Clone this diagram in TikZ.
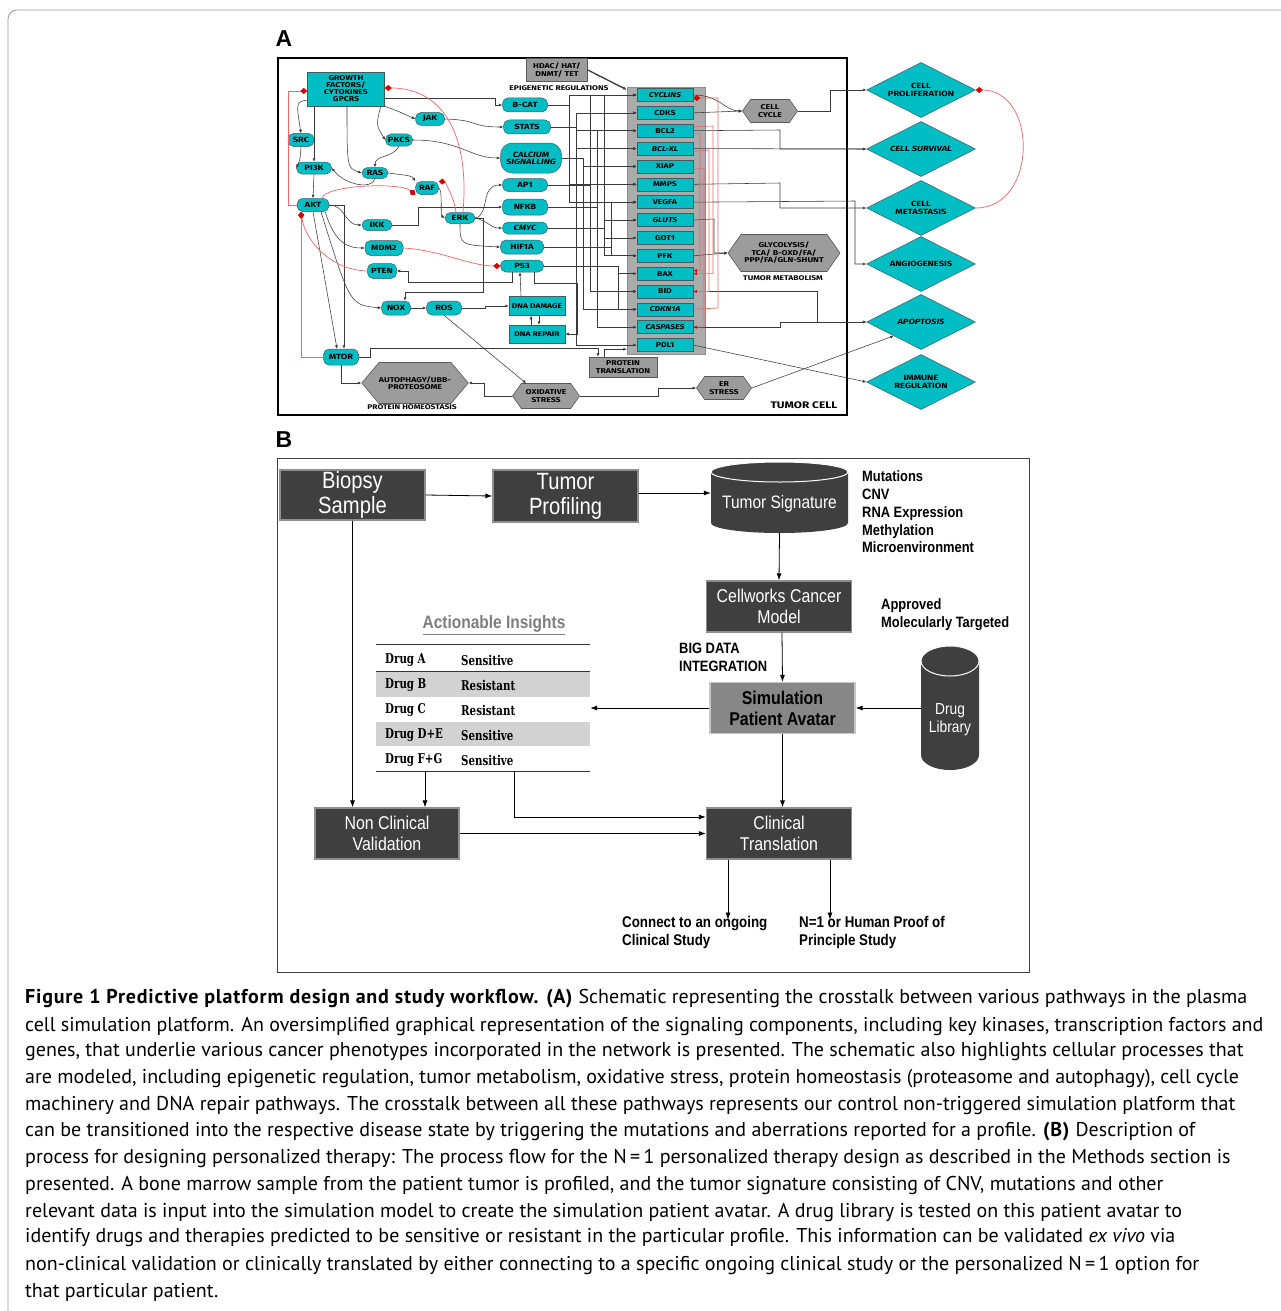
\documentclass[tikz,border=0pt]{standalone}
\usepackage{fontspec}
\usepackage{tikz}
\usetikzlibrary{arrows.meta,positioning,shapes.geometric,shapes.symbols}
\setmainfont{PT Sans}[BoldFeatures={LetterSpace=4}]
\newfontfamily\cellfont[FakeStretch=1.25]{Fira Sans}
\newfontfamily\narrowfont[FakeStretch=0.86]{Liberation Sans}
\newfontfamily\drugfont[FakeStretch=0.76]{DejaVu Serif}
\newfontfamily\labelfont{Liberation Sans}
\definecolor{tealc}{HTML}{00BEC4}
\definecolor{tealedge}{HTML}{3E5E60}
\definecolor{gnode}{HTML}{9C9C9C}
\definecolor{colgray}{HTML}{ABABAB}
\definecolor{redline}{HTML}{EE6666}
\definecolor{reddot}{HTML}{D60000}
\definecolor{wirec}{HTML}{3A3A3A}
\definecolor{boxdark}{HTML}{3F3F3F}
\definecolor{boxedge}{HTML}{8E8E8E}
\definecolor{simgray}{HTML}{878787}
\definecolor{simedge}{HTML}{C6C6C6}
\definecolor{rowgray}{HTML}{D2D2D2}
\definecolor{framec}{HTML}{9A9A9A}
\definecolor{insight}{HTML}{7E7E7E}

\tikzset{
  tnode/.style={rounded corners=5.5pt, fill=tealc, draw=tealedge, line width=0.5pt, inner sep=0.5pt, align=center,
    font=\cellfont\bfseries\fontsize{7.5}{7}\selectfont},
  tbox/.style={rectangle, fill=tealc, draw=tealedge, line width=0.5pt, inner sep=0.5pt, align=center,
    font=\cellfont\bfseries\fontsize{7.5}{7}\selectfont},
  colbox/.style={tbox, minimum width=56pt, minimum height=13pt, font=\cellfont\bfseries\fontsize{7}{7}\selectfont},
  gbox/.style={rectangle, fill=gnode, draw=black!65, line width=0.6pt, inner sep=0.5pt, align=center,
    font=\cellfont\bfseries\fontsize{7}{7.5}\selectfont},
  hexa/.style={signal, signal to=west and east, fill=gnode, draw=black!65, line width=0.6pt, inner sep=0pt,
    align=center, font=\cellfont\bfseries\fontsize{7}{7.5}\selectfont},
  phen/.style={diamond, aspect=2, fill=tealc, draw=tealedge, line width=0.5pt, minimum width=109pt,
    minimum height=55pt, inner sep=0pt, align=center, font=\cellfont\bfseries\fontsize{7.5}{7.5}\selectfont},
  note/.style={inner sep=0pt, align=center, font=\cellfont\bfseries\fontsize{6.8}{7}\selectfont},
  wire/.style={draw=wirec, line width=0.55pt, -{Latex[length=3.5pt,width=3pt]}},
  inh/.style={draw=redline, line width=0.7pt, -{Diamond[length=7pt,width=6pt,color=reddot,fill=reddot]}},
  redw/.style={draw=redline, line width=0.6pt, -{Latex[length=3.5pt,width=3pt,color=reddot]}},
  darkbox/.style={rectangle, fill=boxdark, draw=boxedge, line width=1.3pt, text=white, align=center,
    minimum width=145pt, minimum height=51pt, inner sep=1pt, font=\narrowfont\fontsize{18.5}{21}\selectfont},
  drum/.style={fill=boxdark},
  rim/.style={draw=white, line width=1pt},
  flow/.style={draw=black, line width=0.8pt, -{Latex[length=7pt,width=5pt]}},
  btxt/.style={inner sep=0pt, align=left, font=\narrowfont\bfseries\fontsize{15}{17.8}\selectfont},
  drugtxt/.style={anchor=west, inner sep=0pt, font=\drugfont\bfseries\fontsize{13.5}{14}\selectfont},
  captxt/.style={anchor=west, inner sep=0pt, font=\fontsize{20}{22}\selectfont}
}

\begin{document}
\begin{tikzpicture}[x=1pt,y=-1pt]
\useasboundingbox[fill=white] (0,0) rectangle (1281,1311);
\draw[framec, line width=0.8pt, rounded corners=9pt] (8,1330) -- (8,10) -- (1300,10);

\node[font=\labelfont\bfseries\fontsize{23}{23}\selectfont] (labA) at (284,39) {A};
\node[font=\labelfont\bfseries\fontsize{23}{23}\selectfont] (labB) at (284,440) {B};

% ---------------- panel A
\draw[line width=2pt] (278,58) rectangle (847,415);

\node[tbox, minimum width=77pt, minimum height=34pt, font=\cellfont\bfseries\fontsize{7}{7}\selectfont] (gf) at (346,89) {GROWTH\\FACTORS/\\CYTOKINES\\GPCRS};
\node[gbox, minimum width=61pt, minimum height=23pt] (hdac) at (557,70) {HDAC/ HAT/\\DNMT/ TET};
\node[note] (epi) at (559,88) {EPIGENETIC REGULATIONS};

\node[tnode, minimum width=45pt, minimum height=14pt] (bcat) at (525,105) {B-CAT};
\node[tnode, minimum width=47pt, minimum height=14pt] (stats) at (527,127) {STATS};
\node[tnode, minimum width=29pt, minimum height=13pt] (jak) at (430,119) {JAK};
\node[tnode, minimum width=26pt, minimum height=13pt] (src) at (301,140) {SRC};
\node[tnode, minimum width=27pt, minimum height=12pt] (pkcs) at (399,140) {PKCS};
\node[tnode, rounded corners=12pt, minimum width=61pt, minimum height=30pt] (calc) at (531,158) {\itshape CALCIUM\\\itshape SIGNALLING};
\node[tnode, minimum width=35pt, minimum height=12pt] (pi3k) at (314,168) {PI3K};
\node[tnode, minimum width=26pt, minimum height=11pt] (ras) at (375,173) {RAS};
\node[tnode, minimum width=23pt, minimum height=13pt] (raf) at (427,188) {RAF};
\node[tnode, minimum width=45pt, minimum height=13pt] (api) at (525,185) {AP1};
\node[tnode, minimum width=32pt, minimum height=13pt] (akt) at (313,205) {AKT};
\node[tnode, minimum width=45pt, minimum height=16pt] (nfkb) at (525,207) {NFKB};
\node[tnode, minimum width=30pt, minimum height=11pt] (erk) at (460,218) {ERK};
\node[tnode, minimum width=30pt, minimum height=11pt] (ikk) at (377,225) {IKK};
\node[tnode, minimum width=45pt, minimum height=12pt] (cmyc) at (525,228) {\itshape CMYC};
\node[tnode, minimum width=38pt, minimum height=15pt] (mdm2) at (384,248) {MDM2};
\node[tnode, minimum width=43pt, minimum height=14pt] (hifia) at (522,247) {HIF1A};
\node[tnode, minimum width=29pt, minimum height=15pt] (pten) at (382,271) {PTEN};
\node[tnode, minimum width=43pt, minimum height=12pt] (p53) at (522,266) {P53};
\node[tnode, minimum width=29pt, minimum height=14pt] (nox) at (396,308) {NOX};
\node[tnode, minimum width=35pt, minimum height=14pt] (ros) at (444,308) {ROS};
\node[tbox, minimum width=56pt, minimum height=19pt, font=\cellfont\bfseries\fontsize{6.8}{7}\selectfont] (dnad) at (537,306) {DNA DAMAGE};
\node[tbox, minimum width=56pt, minimum height=18pt, font=\cellfont\bfseries\fontsize{6.8}{7}\selectfont] (dnar) at (537,334) {DNA REPAIR};
\node[tnode, minimum width=35pt, minimum height=16pt] (mtor) at (341,357) {MTOR};
\node[hexa, signal pointer angle=100, minimum width=88pt, minimum height=41pt] (auto) at (415,383) {AUTOPHAGY/UBB-\\PROTEOSOME};
\node[note] (homeo) at (412,407) {PROTEIN HOMEOSTASIS};
\node[hexa, signal pointer angle=110, minimum width=67pt, minimum height=25pt] (oxs) at (546,396) {OXIDATIVE\\STRESS};
\node[gbox, minimum width=68pt, minimum height=20pt] (ptrans) at (623,367) {PROTEIN\\TRANSLATION};

% gene column
\node[rectangle, fill=colgray, draw=black!45, line width=0.5pt, minimum width=78pt, minimum height=267pt, inner sep=0pt] (col) at (666,220.5) {};
\foreach \nm/\lb [count=\i from 0] in {cyc/{\itshape CYCLINS}, cdks/CDKS, bcl2/BCL2, bclxl/{\itshape BCL-XL},
    xiap/XIAP, mmps/MMPS, vegfa/VEGFA, gluts/{\itshape GLUTS}, got1/GOT1, pfk/PFK, bax/BAX, bid/BID,
    cdkn/{\itshape CDKN1A}, casp/{\itshape CASPASES}, pdl1/PDL1}
  \node[colbox] (\nm) at (665,95+17.86*\i) {\lb};

\node[hexa, signal pointer angle=110, minimum width=55pt, minimum height=23pt] (ccyc) at (770,111) {CELL\\CYCLE};
\node[hexa, signal pointer angle=110, minimum width=112pt, minimum height=37pt] (glyc) at (784,253) {GLYCOLYSIS/\\TCA/ B-OXD/FA/\\PPP/FA/GLN-SHUNT};
\node[note] (tumet) at (783,278) {TUMOR METABOLISM};
\node[hexa, signal pointer angle=110, minimum width=55pt, minimum height=23pt] (ers) at (724,388) {ER\\STRESS};
\node[note, font=\cellfont\bfseries\fontsize{9.5}{9}\selectfont] (tcell) at (804,405) {TUMOR CELL};

\foreach \nm/\lb/\yy in {prol/{CELL\\PROLIFERATION}/90, surv/{\itshape CELL SURVIVAL}/149,
    meta/{CELL\\METASTASIS}/208, ang/ANGIOGENESIS/264, apop/{\itshape APOPTOSIS}/322,
    imm/{IMMUNE\\REGULATION}/382}
  \node[phen] (\nm) at (921,\yy) {\lb};

% signalling wires
\draw[wire] ([yshift=-9pt]gf.east) -- (495,98) |- (bcat.west);
\draw[wire] (gf.south east) .. controls (400,112) .. (jak.west);
\draw[wire] (jak.east) .. controls (480,120) and (470,127) .. (stats.west);
\draw[wire] ([yshift=-11pt]gf.west) .. controls (296,102) .. (src.north);
\draw[wire] (pi3k.north |- gf.south) -- (pi3k.north);
\draw[wire] ([xshift=1pt]gf.south) .. controls (347,168) .. (ras.west);
\draw[wire] ([xshift=-4pt]gf.south east) .. controls (376,125) .. (pkcs.west);
\draw[wire] (src.south) .. controls (300,160) .. (pi3k.west);
\draw[wire] (pkcs.south) .. controls (393,158) and (375,155) .. (ras.north);
\draw[wire] (pkcs.east) .. controls (460,140) and (470,158) .. (calc.west);
\draw[wire] (ras.south) .. controls (372,190) and (345,185) .. (pi3k.east);
\draw[wire] (ras.east) .. controls (412,176) .. (raf.north west);
\draw[wire] (raf.east) .. controls (443,190) and (440,215) .. (erk.west);
\draw[wire] (pi3k.south) -- (akt.north);
\draw[wire] (erk.east) .. controls (490,215) and (480,185) .. (api.west);
\draw[wire] (erk.east) .. controls (490,222) and (490,228) .. (cmyc.west);
\draw[wire] (erk.south) .. controls (460,245) .. (hifia.west);
\draw[wire] (ikk.east) -- (418,225) |- (nfkb.west);
\draw[wire] (akt.east) .. controls (345,205) and (345,225) .. (ikk.west);
\draw[wire] ([xshift=-4pt]akt.south east) .. controls (335,245) and (350,248) .. (mdm2.west);
\draw[wire] ([xshift=8pt]akt.south) .. controls (350,305) .. (nox.west);
\draw[wire] (akt.south) -- ([xshift=-4pt]mtor.north);
\draw[wire] (akt.east) -| ([xshift=3pt]mtor.north);
\draw[wire] ([xshift=-10pt]p53.south) |- (408,282) |- (pten.east);
\draw[wire] ([xshift=-16pt]dnad.north) -- ([xshift=-2pt]p53.south);
\draw[wire] ([xshift=-6pt]dnar.north) -- ([xshift=-6pt]dnad.south);
\draw[wire] ([xshift=2pt]dnad.south) -- ([xshift=2pt]dnar.north);
\draw[wire] ([xshift=12pt]p53.south) |- (577,283) |- (dnar.east);
\draw[wire] (nox.east) -- (ros.west);
\draw[wire] (ros.east) -- (485,308) |- (dnad.west);
\draw[wire] (erk.east) -| (483,292) -| ([xshift=9pt]nox.north);
\draw[wire] (ros.south) -- ([xshift=-20pt]oxs.north);
\draw[wire] (oxs.west) -- (484,396) |- (auto.east);
\draw[wire] (mtor.south) |- (auto.west);
\draw[wire] (mtor.east) -| (370,348) -| ([xshift=-25pt]ptrans.north);
\draw[wire] ([xshift=-19pt]ptrans.north) |- ([yshift=5pt]col.south west);
\draw[wire] (oxs.east) -- (658,396) |- (ers.west);
\draw[wire] (ers.east) -- (apop.south west);
\draw[wire] (pdl1.east) -- (imm.west);
\draw[wire, line width=1.3pt] (hdac.east) -- ([yshift=-3pt]col.north west);

% transcription factors into the gene column
\foreach \src/\bx/\tgt in {bcat/67/cyc, bcat/67/mmps, bcat/67/vegfa, stats/60/cdks, stats/60/bcl2,
    stats/60/bclxl, stats/60/pdl1, calc/53/xiap, calc/53/cdkn, api/46/cyc, api/46/mmps, api/46/vegfa,
    api/46/bid, nfkb/39/bcl2, nfkb/39/bclxl, nfkb/39/xiap, nfkb/39/casp, cmyc/32/cyc, cmyc/32/cdks,
    cmyc/32/gluts, cmyc/32/got1, cmyc/32/pfk, hifia/25/vegfa, hifia/25/gluts, hifia/25/pfk,
    p53/18/bax, p53/18/bid, p53/18/cdkn}
  \draw[wire] (\src.east) -| ([xshift=-\bx pt]\tgt.west) -- (\tgt.west);

% gene column to phenotypes
\draw[wire] (cyc.east) .. controls (720,95) and (725,111) .. (ccyc.west);
\draw[wire] (cdks.east) -- (ccyc.west);
\draw[wire] (ccyc.east) -- (830,111) |- (prol.west);
\draw[wire] (bcl2.east) -- (780,130) |- (surv.west);
\draw[wire] (bclxl.east) -- (surv.west);
\draw[wire] (mmps.east) -- (780,183) |- (meta.west);
\draw[wire] (vegfa.east) -- (855,201) |- (ang.west);
\draw[wire] (pfk.east) -- (glyc.west);
\draw[wire] (gluts.east) -- (714,219) |- (glyc.west);
\draw[wire] (bid.east) -| (817,322) -- (apop.west);
\draw[wire] (casp.east) -| (780,322) -- (apop.west);

% inhibitions
\draw[inh] (akt.west) -| (288,91) -- ([yshift=-2pt]gf.west);
\draw[inh] ([xshift=3pt]erk.north) .. controls (470,130) and (440,88) .. ([yshift=1pt]gf.east);
\draw[inh] ([xshift=9pt]akt.north) .. controls (325,185) and (400,182) .. (raf.south west);
\draw[inh] ([xshift=-4pt]erk.north) .. controls (455,200) and (445,182) .. (raf.north east);
\draw[inh] (pten.west) .. controls (330,270) and (305,240) .. ([xshift=-12pt]akt.south);
\draw[inh] (mtor.west) -| ([xshift=-12pt]akt.south);
\draw[inh] (mdm2.east) .. controls (440,250) and (470,266) .. (p53.west);
\draw[inh] (cdkn.east) -- (718,308) |- ([yshift=-3pt]cyc.east);
\draw[redw] ([yshift=4pt]bcl2.east) -- (713,126) |- (bax.east);
\draw[redw] (bclxl.east) ++(0,3) -- (709,150) |- (bid.east);
\draw[redw] (xiap.east) ++(0,3) -- (704,168) |- (casp.east);
\draw[redw] ([yshift=-3pt]bcl2.east) -- (700,133) |- ([yshift=3pt]bax.east);
\draw[inh] (meta.east) .. controls (1038,208) and (1038,90) .. (prol.east);

% ---------------- panel B
\draw[black!75, line width=0.8pt] (277,458) rectangle (1029,972);

\node[darkbox, minimum height=50pt, font=\narrowfont\fontsize{23.5}{25}\selectfont] (biopsy) at (352.5,495) {Biopsy\\Sample};
\node[darkbox, minimum height=52pt, font=\narrowfont\fontsize{23.5}{25}\selectfont] (tprof) at (565.5,496) {Tumor\\Profiling};

% data drums
\fill[drum] (711,472) -- (711,523) arc[start angle=180, end angle=0, x radius=68.5, y radius=10]
  -- (848,472) arc[start angle=0, end angle=-180, x radius=68.5, y radius=10] -- cycle;
\draw[rim] (779.5,472) ellipse [x radius=68.5, y radius=10];
\node[minimum width=137pt, minimum height=71pt, inner sep=0pt, text=white, font=\narrowfont\fontsize{18}{20}\selectfont] (tsig) at (779.5,497.5)
  {\raisebox{-6pt}[\height][\depth]{Tumor Signature}};
\fill[drum] (921,661) -- (921,755) arc[start angle=180, end angle=0, x radius=29, y radius=15]
  -- (979,661) arc[start angle=0, end angle=-180, x radius=29, y radius=15] -- cycle;
\draw[rim] (950,661) ellipse [x radius=29, y radius=15];
\node[minimum width=58pt, minimum height=124pt, inner sep=0pt, text=white, font=\narrowfont\fontsize{16}{18}\selectfont] (dlib) at (950,708)
  {\raisebox{-12pt}[\height][\depth]{\begin{tabular}{@{}c@{}}Drug\\Library\end{tabular}}};

\node[btxt, anchor=west] (omics) at (862,512) {Mutations\\CNV\\RNA Expression\\Methylation\\Microenvironment};
\node[darkbox] (cwm) at (779,606.5) {Cellworks Cancer\\Model};
\node[btxt, anchor=west] (appr) at (881,615) {Approved\\Molecularly Targeted};
\node[btxt, anchor=west] (bigd) at (679,657) {BIG DATA\\INTEGRATION};
\node[darkbox, fill=simgray, draw=simedge, text=black, font=\narrowfont\bfseries\fontsize{18.5}{21}\selectfont] (sim) at (782.5,708) {Simulation\\Patient Avatar};

\node[inner sep=0pt, text=insight, font=\narrowfont\bfseries\fontsize{18}{20}\selectfont] (ains) at (494,625) {\underline{Actionable Insights}};
\node[minimum width=214pt, minimum height=126pt, inner sep=0pt] (tbl) at (483,708) {};
\fill[rowgray] ([yshift=-27pt]tbl.north west) rectangle ([yshift=-52pt]tbl.north east);
\fill[rowgray] ([yshift=-77pt]tbl.north west) rectangle ([yshift=-101pt]tbl.north east);
\draw[black!80, line width=1.3pt] (tbl.north west) -- (tbl.north east);
\draw[black!80, line width=1.3pt] ([yshift=-27pt]tbl.north west) -- ([yshift=-27pt]tbl.north east);
\draw[black!80, line width=1.3pt] (tbl.south west) -- (tbl.south east);
\foreach \d/\s [count=\i from 0] in {Drug A/Sensitive, Drug B/Resistant, Drug C/Resistant,
    Drug D+E/Sensitive, Drug F+G/Sensitive} {
  \node[drugtxt] (drug\i) at (385,660+25*\i) {\d};
  \node[drugtxt] (resp\i) at (461,660+25*\i) {\s};
}

\node[darkbox, minimum width=144pt] (ncv) at (387,833.5) {Non Clinical\\Validation};
\node[darkbox] (clin) at (779,833.5) {Clinical\\Translation};
\node[btxt, anchor=west, font=\narrowfont\bfseries\fontsize{15.5}{18}\selectfont] (out1) at (622,932) {Connect to an ongoing\\Clinical Study};
\node[btxt, anchor=west, font=\narrowfont\bfseries\fontsize{15.5}{18}\selectfont] (out2) at (799,932) {N=1 or Human Proof of\\Principle Study};

\draw[flow] (biopsy.east) -- (tprof.west);
\draw[flow] ([yshift=3pt]tprof.east) -- ([yshift=4.5pt]tsig.west);
\draw[flow] (tsig.south) -- (cwm.north);
\draw[flow] ([xshift=3pt]cwm.south) -- (sim.north);
\draw[flow] (dlib.west) -- (sim.east);
\draw[flow] (sim.west) -- (tbl.east);
\draw[flow] (sim.south) -- (sim.south |- clin.north);
\draw[flow] (biopsy.south) -- (biopsy.south |- ncv.north);
\draw[flow] ([xshift=-58pt]tbl.south) -- ([xshift=-58pt]tbl.south |- ncv.north);
\draw[flow] ([xshift=31pt]tbl.south) |- ([yshift=16.5pt]clin.west);
\draw[flow] (ncv.east) -- (clin.west);
\draw[flow] ([xshift=-51pt]clin.south) -- ([xshift=-51pt,yshift=-4pt]clin.south |- out1.north);
\draw[flow] ([xshift=51pt]clin.south) -- ([xshift=51pt,yshift=-4pt]clin.south |- out1.north);

% ---------------- caption
\node[captxt] (cap1) at (25,999) {\textbf{Figure 1 Predictive platform design and study workflow. (A)} Schematic representing the crosstalk between various pathways in the plasma};
\node[captxt] (cap2) at (25,1026) {cell simulation platform. An oversimplified graphical representation of the signaling components, including key kinases, transcription factors and};
\node[captxt] (cap3) at (25,1052) {genes, that underlie various cancer phenotypes incorporated in the network is presented. The schematic also highlights cellular processes that};
\node[captxt] (cap4) at (25,1079) {are modeled, including epigenetic regulation, tumor metabolism, oxidative stress, protein homeostasis (proteasome and autophagy), cell cycle};
\node[captxt] (cap5) at (25,1105) {machinery and DNA repair pathways. The crosstalk between all these pathways represents our control non-triggered simulation platform that};
\node[captxt] (cap6) at (25,1132) {can be transitioned into the respective disease state by triggering the mutations and aberrations reported for a profile. \textbf{(B)} Description of};
\node[captxt] (cap7) at (25,1158) {process for designing personalized therapy: The process flow for the N\,=\,1 personalized therapy design as described in the Methods section is};
\node[captxt] (cap8) at (25,1185) {presented. A bone marrow sample from the patient tumor is profiled, and the tumor signature consisting of CNV, mutations and other};
\node[captxt] (cap9) at (25,1212) {relevant data is input into the simulation model to create the simulation patient avatar. A drug library is tested on this patient avatar to};
\node[captxt] (cap10) at (25,1238) {identify drugs and therapies predicted to be sensitive or resistant in the particular profile. This information can be validated \textit{ex vivo} via};
\node[captxt] (cap11) at (25,1265) {non-clinical validation or clinically translated by either connecting to a specific ongoing clinical study or the personalized N\,=\,1 option for};
\node[captxt] (cap12) at (25,1292) {that particular patient.};
\end{tikzpicture}
\end{document}
